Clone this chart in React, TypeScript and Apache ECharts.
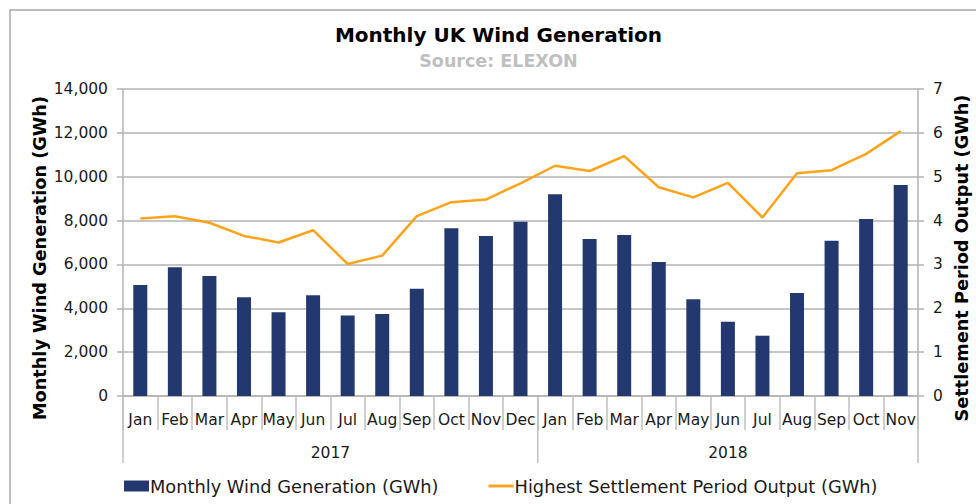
import React, { useEffect, useRef } from "react";
import * as echarts from "echarts";

const years = ["2017", "2018"];
const monthsPerYear = [12, 11];
const monthNames = ["Jan", "Feb", "Mar", "Apr", "May", "Jun", "Jul", "Aug", "Sep", "Oct", "Nov", "Dec"];

const generation = [
  5060, 5870, 5470, 4500, 3820, 4590, 3670, 3740, 4890, 7650, 7300, 7950,
  9200, 7160, 7340, 6110, 4410, 3390, 2750, 4700, 7080, 8070, 9620,
];
const highestOutput = [
  4.05, 4.1, 3.95, 3.65, 3.5, 3.78, 3.01, 3.2, 4.1, 4.42, 4.48, 4.85,
  5.25, 5.13, 5.47, 4.76, 4.53, 4.86, 4.07, 5.08, 5.15, 5.52, 6.04,
];

const leftTicks = { min: 0, max: 14000, interval: 2000 };
const rightTicks = { min: 0, max: 7, interval: 1 };

const titleText = "Monthly UK Wind Generation";
const subtitleText = "Source: ELEXON";
const barName = "Monthly Wind Generation (GWh)";
const lineName = "Highest Settlement Period Output (GWh)";
const rightAxisName = "Settlement Period Output (GWh)";

export default function App() {
  const ref = useRef<HTMLDivElement>(null);
  useEffect(() => {
    if (!ref.current) return;
    const chart = echarts.init(ref.current, null, { renderer: "svg" });

    const categories: string[] = [];
    const boundaries: number[] = [0];
    const centers: number[] = [];
    let acc = 0;
    monthsPerYear.forEach((n) => {
      for (let i = 0; i < n; i++) categories.push(monthNames[i]);
      centers.push(acc + n / 2);
      acc += n;
      boundaries.push(acc);
    });
    const halfSteps: string[] = [];
    for (let i = 0; i <= acc * 2; i++) halfSteps.push(String(i / 2));

    const font = "DejaVu Sans";
    const gridColor = "#b3b3b3";
    const tickColor = "#bfbfbf";

    const baseGraphic: any[] = [
      {
        type: "rect",
        shape: { x: 10, y: 10, width: 1000, height: 600 },
        style: { fill: "none", stroke: "#a6a6a6", lineWidth: 1.5 },
        silent: true,
        z: -10,
      },
      {
        type: "text",
        x: 498.5,
        y: 35,
        style: {
          text: titleText,
          font: `bold 20px "${font}"`,
          fill: "#000",
          align: "center",
          verticalAlign: "middle",
        },
      },
      {
        type: "text",
        x: 498.5,
        y: 61,
        style: {
          text: subtitleText,
          font: `bold 17.5px "${font}"`,
          fill: "#bfbfbf",
          align: "center",
          verticalAlign: "middle",
        },
      },
      {
        type: "text",
        x: 40,
        y: 258,
        rotation: Math.PI / 2,
        style: {
          text: barName,
          font: `bold 17.7px "${font}"`,
          fill: "#000",
          align: "center",
          verticalAlign: "middle",
        },
      },
      {
        type: "text",
        x: 962,
        y: 258,
        rotation: Math.PI / 2,
        style: {
          text: rightAxisName,
          font: `bold 17.7px "${font}"`,
          fill: "#000",
          align: "center",
          verticalAlign: "middle",
        },
      },
    ];

    chart.setOption({
      animation: false,
      textStyle: { fontFamily: font },
      legend: {
        left: 124,
        top: 477,
        padding: 0,
        itemWidth: 25,
        itemHeight: 11,
        itemGap: 50,
        textStyle: { fontFamily: font, fontSize: 17.8, color: "#1a1a1a", padding: [0, 0, 0, -4] },
        data: [
          { name: barName, icon: "rect" },
          { name: lineName, icon: "path://M0,0L26,0L26,3L0,3Z" },
        ],
      },
      grid: { left: 123, right: 58, top: 89, bottom: 108, containLabel: false },
      xAxis: [
        {
          type: "category",
          data: categories,
          boundaryGap: true,
          axisLine: { show: true, lineStyle: { color: gridColor, width: 1.5 } },
          axisTick: { show: true, interval: 0, length: 34, lineStyle: { color: tickColor, width: 1.5 } },
          axisLabel: { interval: 0, margin: 16, fontSize: 15.5, color: "#1a1a1a", fontFamily: font },
        },
        {
          type: "category",
          data: halfSteps,
          boundaryGap: false,
          position: "bottom",
          axisLine: { show: false },
          splitLine: { show: false },
          axisTick: { show: false },
          axisLabel: {
            show: true,
            margin: 49,
            fontSize: 15.5,
            color: "#1a1a1a",
            fontFamily: font,
            interval: (index: number) => centers.indexOf(index / 2) >= 0,
            formatter: (_v: string, index: number) => {
              const i = centers.indexOf(index / 2);
              return i >= 0 ? years[i] : "";
            },
          },
        },
      ],
      yAxis: [
        {
          type: "value",
          ...leftTicks,
          position: "left",
          axisLine: { show: true, lineStyle: { color: gridColor, width: 1.5 } },
          axisTick: { show: true, length: 6, lineStyle: { color: gridColor, width: 1.5 } },
          splitLine: { show: true, lineStyle: { color: gridColor, width: 1.5 } },
          axisLabel: {
            margin: 15,
            fontSize: 15.5,
            color: "#1a1a1a",
            fontFamily: font,
            formatter: (v: number) => v.toLocaleString("en-US"),
          },
        },
        {
          type: "value",
          ...rightTicks,
          position: "right",
          axisLine: { show: true, lineStyle: { color: gridColor, width: 1.5 } },
          axisTick: { show: true, length: 6, lineStyle: { color: gridColor, width: 1.5 } },
          splitLine: { show: false },
          axisLabel: { margin: 15, fontSize: 15.5, color: "#1a1a1a", fontFamily: font },
        },
      ],
      graphic: baseGraphic,
      series: [
        {
          name: barName,
          type: "bar",
          xAxisIndex: 0,
          yAxisIndex: 0,
          barWidth: 14,
          data: generation,
          itemStyle: { color: "#22386f" },
        },
        {
          name: lineName,
          type: "line",
          xAxisIndex: 0,
          yAxisIndex: 1,
          data: highestOutput,
          symbol: "none",
          lineStyle: { color: "#ffa31a", width: 2.5 },
          itemStyle: { color: "#ffa31a" },
        },
      ],
    });

    // year separators, positioned through the year axis scale
    const y0 = chart.convertToPixel({ yAxisIndex: 0 }, 0) as number;
    const separators = boundaries.map((b) => {
      const x = chart.convertToPixel({ xAxisIndex: 1 }, String(b)) as number;
      return {
        type: "line",
        shape: { x1: x, y1: y0, x2: x, y2: y0 + 67 },
        style: { stroke: tickColor, lineWidth: 1.5 },
        silent: true,
      };
    });
    chart.setOption({ graphic: [...baseGraphic, ...separators] });

    return () => chart.dispose();
  }, []);
  return (
    <div
      ref={ref}
      style={{ position: "fixed", left: 0, top: 0, width: 976, height: 504, background: "#fff" }}
    />
  );
}
